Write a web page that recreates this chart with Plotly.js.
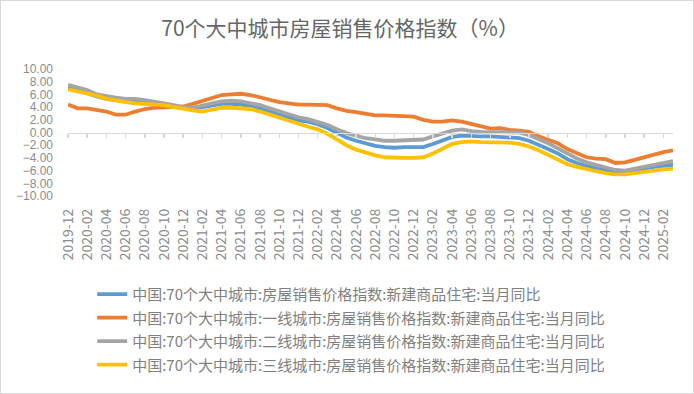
<!DOCTYPE html>
<html>
<head>
<meta charset="utf-8">
<script src="https://cdn.plot.ly/plotly-3.0.1.min.js"></script>
<style>
  html, body { margin: 0; padding: 0; background: #ffffff; }
  #frame { width: 694px; height: 394px; box-sizing: border-box; border: 1px solid #d9d9d9; overflow: hidden; }
  #chart { width: 692px; height: 392px; }
</style>
</head>
<body>
<div id="frame"><div id="chart"></div></div>
<script>
// Months 2019-12 .. 2025-03
const months = [
  "2019-12",
  "2020-01","2020-02","2020-03","2020-04","2020-05","2020-06","2020-07","2020-08","2020-09","2020-10","2020-11","2020-12",
  "2021-01","2021-02","2021-03","2021-04","2021-05","2021-06","2021-07","2021-08","2021-09","2021-10","2021-11","2021-12",
  "2022-01","2022-02","2022-03","2022-04","2022-05","2022-06","2022-07","2022-08","2022-09","2022-10","2022-11","2022-12",
  "2023-01","2023-02","2023-03","2023-04","2023-05","2023-06","2023-07","2023-08","2023-09","2023-10","2023-11","2023-12",
  "2024-01","2024-02","2024-03","2024-04","2024-05","2024-06","2024-07","2024-08","2024-09","2024-10","2024-11","2024-12",
  "2025-01","2025-02","2025-03"
];

const seriesNames = [
  "中国:70个大中城市:房屋销售价格指数:新建商品住宅:当月同比",
  "中国:70个大中城市:一线城市:房屋销售价格指数:新建商品住宅:当月同比",
  "中国:70个大中城市:二线城市:房屋销售价格指数:新建商品住宅:当月同比",
  "中国:70个大中城市:三线城市:房屋销售价格指数:新建商品住宅:当月同比"
];

const all70 = [
  7.1,
  6.7,6.2,5.7,5.3,5.1,4.9,4.8,4.7,4.6,4.3,4.1,3.9,
  3.8,4.0,4.3,4.5,4.5,4.4,4.1,3.8,3.3,2.8,2.4,1.9,
  1.7,1.3,0.7,0.0,-0.8,-1.3,-1.7,-2.1,-2.3,-2.4,-2.3,-2.3,
  -2.3,-1.8,-1.2,-0.7,-0.5,-0.6,-0.6,-0.6,-0.7,-0.8,-0.9,-1.3,
  -1.9,-2.6,-3.3,-4.2,-4.8,-5.3,-5.6,-5.9,-6.2,-6.2,-6.0,-5.7,
  -5.4,-5.2,-5.1
];

const tier1 = [
  4.4,
  3.8,3.8,3.6,3.3,2.8,2.8,3.3,3.7,3.9,4.0,4.0,4.1,
  4.5,5.0,5.5,5.9,6.0,6.1,5.9,5.5,5.1,4.8,4.6,4.4,
  4.4,4.4,4.3,3.8,3.4,3.2,2.9,2.7,2.7,2.6,2.5,2.5,
  2.0,1.7,1.7,1.9,1.7,1.3,1.0,0.6,0.7,0.4,0.3,0.1,
  -0.6,-1.1,-1.7,-2.6,-3.2,-3.9,-4.1,-4.2,-4.8,-4.7,-4.3,-3.9,
  -3.4,-3.1,-2.8
];

const tier2 = [
  7.5,
  7.1,6.7,6.0,5.7,5.5,5.3,5.3,5.1,4.9,4.6,4.3,4.0,
  3.9,4.3,4.6,4.9,5.0,4.9,4.6,4.3,3.8,3.3,2.8,2.4,
  2.1,1.7,1.2,0.5,-0.1,-0.5,-0.9,-1.1,-1.3,-1.3,-1.2,-1.2,
  -1.1,-0.6,-0.1,0.3,0.5,0.2,0.1,0.1,0.1,0.1,0.0,-0.4,
  -1.0,-1.7,-2.5,-3.3,-4.1,-4.7,-5.1,-5.5,-5.9,-6.0,-5.7,-5.4,
  -5.1,-4.8,-4.5
];

const tier3 = [
  6.8,
  6.5,6.2,5.8,5.3,5.0,4.8,4.6,4.5,4.4,4.3,4.0,3.7,
  3.5,3.3,3.6,3.9,3.9,3.8,3.7,3.3,2.8,2.3,1.8,1.4,
  0.9,0.5,-0.2,-1.1,-2.0,-2.7,-3.2,-3.6,-3.9,-4.0,-4.0,-4.0,
  -3.9,-3.3,-2.5,-1.8,-1.5,-1.4,-1.5,-1.5,-1.5,-1.6,-1.8,-2.2,
  -2.8,-3.5,-4.3,-5.0,-5.4,-5.8,-6.1,-6.4,-6.6,-6.6,-6.4,-6.1,
  -5.9,-5.8,-5.7
];

const yTicks = [10, 8, 6, 4, 2, 0, -2, -4, -6, -8, -10];

const colors = ["#5b9bd5", "#ed7d31", "#a5a5a5", "#ffc000"];
const values = [all70, tier1, tier2, tier3];

const traces = values.map((v, k) => ({
  type: "scatter",
  mode: "lines",
  x: months,
  y: v,
  name: seriesNames[k],
  legendgroup: "g" + k,
  line: { color: colors[k], width: 3.8 },
  hoverinfo: "x+y"
}));

const FONT = "'Noto Sans CJK SC', 'Noto Sans', sans-serif";
const NUMFONT = "'Liberation Sans', Arial, sans-serif";

const layout = {
  width: 692,
  height: 392,
  margin: { l: 67, r: 20, t: 68, b: 182 },
  paper_bgcolor: "#ffffff",
  plot_bgcolor: "#ffffff",
  font: { family: FONT, color: "#8c8c8c", size: 14 },
  title: {
    text: "70个大中城市房屋销售价格指数（%）",
    font: { family: FONT, size: 21, color: "#666666" },
    xref: "container", x: 0.49, xanchor: "center",
    yref: "container", y: 0.93, yanchor: "middle"
  },
  showlegend: true,
  legend: {
    orientation: "v",
    x: 0.04, xanchor: "left",
    y: -0.645, yanchor: "top",
    traceorder: "grouped",
    tracegroupgap: 1,
    font: { family: FONT, size: 15, color: "#808080" },
    bgcolor: "rgba(0,0,0,0)"
  },
  xaxis: {
    type: "category",
    categoryorder: "array",
    categoryarray: months,
    range: [0, 63],
    autorange: false,
    tickmode: "linear",
    tick0: 0,
    dtick: 2,
    tickangle: -90,
    ticks: "",
    showline: false,
    showgrid: false,
    zeroline: false,
    ticklabelstandoff: 9,
    tickfont: { family: FONT, size: 14, color: "#8c8c8c" },
    fixedrange: true
  },
  xaxis2: {
    overlaying: "x",
    anchor: "free",
    position: 0.5,
    type: "linear",
    range: [0, 63],
    autorange: false,
    tickmode: "linear",
    tick0: 0,
    dtick: 2,
    ticks: "outside",
    ticklen: 4,
    tickwidth: 1.5,
    tickcolor: "#d9d9d9",
    showline: true,
    linecolor: "#d9d9d9",
    linewidth: 1.5,
    showticklabels: false,
    showgrid: false,
    zeroline: false,
    fixedrange: true
  },
  yaxis: {
    range: [-10, 10],
    autorange: false,
    tickmode: "array",
    tickvals: yTicks,
    tickformat: ".2f",
    ticks: "",
    showline: false,
    showgrid: false,
    zeroline: false,
    ticklabelstandoff: 14,
    tickfont: { family: NUMFONT, size: 12, color: "#8c8c8c" },
    fixedrange: true
  }
};

// invisible anchor trace so that xaxis2 (the zero-line axis) is rendered
traces.unshift({
  type: "scatter", mode: "lines", x: [0, 63], y: [0, 0], xaxis: "x2", yaxis: "y",
  line: { color: "rgba(0,0,0,0)", width: 0 }, showlegend: false, hoverinfo: "skip"
});

Plotly.newPlot("chart", traces, layout, { displayModeBar: false, staticPlot: true });
</script>
</body>
</html>
